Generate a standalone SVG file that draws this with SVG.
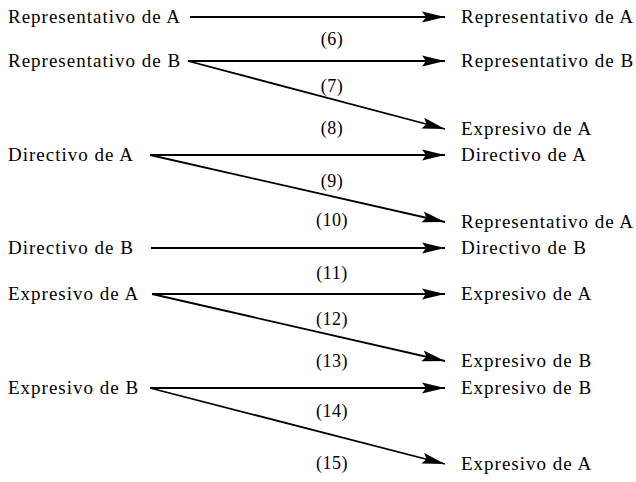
<svg xmlns="http://www.w3.org/2000/svg" width="636" height="482" viewBox="0 0 636 482">
<style>
text{font-family:"Liberation Serif","Times New Roman",serif;fill:#000}
.t{font-size:19px;letter-spacing:1px}
.n{font-size:18px;letter-spacing:0.5px;text-anchor:middle}
.c{stroke:#000;stroke-width:1.8;fill:none;marker-end:url(#ah)}
</style>
<defs>
<marker id="ah" markerUnits="userSpaceOnUse" markerWidth="24" markerHeight="12" refX="23" refY="6" orient="auto" viewBox="0 0 24 12">
<path d="M0,0.5 L23,6 L0,11.5 L4,6 z" fill="#000"/>
</marker>
</defs>
<rect width="636" height="482" fill="#fff"/>
<g id="left">
<g id="l-repA"><text class="t" x="8" y="23">Representativo de A</text></g>
<g id="l-repB"><text class="t" x="8" y="67">Representativo de B</text></g>
<g id="l-dirA"><text class="t" x="8" y="161">Directivo de A</text></g>
<g id="l-dirB"><text class="t" x="8" y="254">Directivo de B</text></g>
<g id="l-expA"><text class="t" x="8" y="300">Expresivo de A</text></g>
<g id="l-expB"><text class="t" x="8" y="394">Expresivo de B</text></g>
</g>
<g id="right">
<g id="r1"><text class="t" x="461" y="23">Representativo de A</text></g>
<g id="r2"><text class="t" x="461" y="67">Representativo de B</text></g>
<g id="r3"><text class="t" x="461" y="135">Expresivo de A</text></g>
<g id="r4"><text class="t" x="461" y="161">Directivo de A</text></g>
<g id="r5"><text class="t" x="461" y="228">Representativo de A</text></g>
<g id="r6"><text class="t" x="461" y="254">Directivo de B</text></g>
<g id="r7"><text class="t" x="461" y="300">Expresivo de A</text></g>
<g id="r8"><text class="t" x="461" y="367">Expresivo de B</text></g>
<g id="r9"><text class="t" x="461" y="394">Expresivo de B</text></g>
<g id="r10"><text class="t" x="461" y="470">Expresivo de A</text></g>
</g>
<g id="connectors">
<line class="c" x1="190" y1="17" x2="445" y2="17"/>
<line class="c" x1="188" y1="61" x2="445" y2="61"/>
<line class="c" x1="188" y1="61" x2="445" y2="129"/>
<line class="c" x1="150" y1="155" x2="445" y2="155"/>
<line class="c" x1="150" y1="155" x2="445" y2="222"/>
<line class="c" x1="151" y1="248" x2="445" y2="248"/>
<line class="c" x1="152" y1="294" x2="445" y2="294"/>
<line class="c" x1="152" y1="294" x2="445" y2="361"/>
<line class="c" x1="150" y1="388" x2="445" y2="388"/>
<line class="c" x1="150" y1="388" x2="445" y2="464"/>
</g>
<g id="labels">
<text class="n" x="332" y="45">(6)</text>
<text class="n" x="332" y="92">(7)</text>
<text class="n" x="332" y="134">(8)</text>
<text class="n" x="332" y="187">(9)</text>
<text class="n" x="332" y="226">(10)</text>
<text class="n" x="332" y="279">(11)</text>
<text class="n" x="332" y="325">(12)</text>
<text class="n" x="332" y="367">(13)</text>
<text class="n" x="332" y="417">(14)</text>
<text class="n" x="332" y="469">(15)</text>
</g>
</svg>
